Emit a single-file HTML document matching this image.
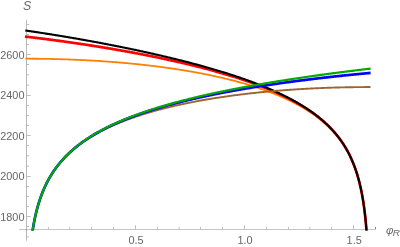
<!DOCTYPE html>
<html><head><meta charset="utf-8"><title>Plot</title>
<style>html,body{margin:0;padding:0;background:#fff}svg{display:block}text{filter:grayscale(1)}text{font-family:"Liberation Sans",sans-serif;fill:#666}</style></head>
<body>
<svg width="400" height="247" viewBox="0 0 400 247">
<rect width="400" height="247" fill="#fff"/>
<defs><clipPath id="c"><rect x="0" y="0" width="400" height="230.60"/></clipPath></defs>
<g stroke="#666" stroke-width="0.46" fill="none">
<path d="M19.2 229.50 H375.9" stroke-width="0.38"/>
<path d="M26.50 19.7 V240.7"/>
<path d="M48.40 229.00 v-2.1" stroke-width="0.42"/>
<path d="M69.80 229.00 v-2.1" stroke-width="0.42"/>
<path d="M91.50 229.00 v-2.1" stroke-width="0.42"/>
<path d="M113.50 229.00 v-2.1" stroke-width="0.42"/>
<path d="M135.50 229.00 v-3.8" stroke-width="0.42"/>
<path d="M157.50 229.00 v-2.1" stroke-width="0.42"/>
<path d="M179.13 229.00 v-2.1" stroke-width="0.42"/>
<path d="M200.53 229.00 v-2.1" stroke-width="0.42"/>
<path d="M222.50 229.00 v-2.1" stroke-width="0.42"/>
<path d="M244.50 229.00 v-3.8" stroke-width="0.42"/>
<path d="M266.50 229.00 v-2.1" stroke-width="0.42"/>
<path d="M288.47 229.00 v-2.1" stroke-width="0.42"/>
<path d="M309.87 229.00 v-2.1" stroke-width="0.42"/>
<path d="M331.50 229.00 v-2.1" stroke-width="0.42"/>
<path d="M353.50 229.00 v-3.8" stroke-width="0.42"/>
<path d="M375.50 229.00 v-2.1" stroke-width="0.80"/>
<path d="M27.00 236.85 h2.1" stroke-width="0.42"/>
<path d="M27.00 226.50 h2.1" stroke-width="0.42"/>
<path d="M27.00 216.50 h3.8" stroke-width="0.42"/>
<path d="M27.00 206.50 h2.1" stroke-width="0.42"/>
<path d="M27.00 196.50 h2.1" stroke-width="0.42"/>
<path d="M27.00 186.50 h2.1" stroke-width="0.42"/>
<path d="M27.00 176.50 h3.8" stroke-width="0.42"/>
<path d="M27.00 166.21 h2.1" stroke-width="0.42"/>
<path d="M27.00 155.78 h2.1" stroke-width="0.42"/>
<path d="M27.00 145.50 h2.1" stroke-width="0.42"/>
<path d="M27.00 135.50 h3.8" stroke-width="0.42"/>
<path d="M27.00 125.50 h2.1" stroke-width="0.42"/>
<path d="M27.00 115.50 h2.1" stroke-width="0.42"/>
<path d="M27.00 105.50 h2.1" stroke-width="0.42"/>
<path d="M27.00 95.50 h3.8" stroke-width="0.42"/>
<path d="M27.00 85.14 h2.1" stroke-width="0.42"/>
<path d="M27.00 74.72 h2.1" stroke-width="0.42"/>
<path d="M27.00 64.50 h2.1" stroke-width="0.42"/>
<path d="M27.00 54.50 h3.8" stroke-width="0.42"/>
<path d="M27.00 44.50 h2.1" stroke-width="0.42"/>
<path d="M27.00 34.50 h2.1" stroke-width="0.42"/>
<path d="M27.00 24.50 h2.1" stroke-width="0.42"/>
</g>
<g clip-path="url(#c)" fill="none" stroke-linejoin="round" stroke-linecap="square">
<path d="M26.30 58.71 L27.16 58.71 L28.01 58.71 L28.87 58.71 L29.73 58.72 L30.58 58.72 L31.44 58.72 L32.30 58.73 L33.15 58.73 L34.01 58.74 L34.87 58.74 L35.72 58.75 L36.58 58.76 L37.44 58.76 L38.30 58.77 L39.15 58.78 L40.01 58.79 L40.87 58.80 L41.72 58.81 L42.58 58.82 L43.44 58.84 L44.29 58.85 L45.15 58.86 L46.01 58.88 L46.86 58.89 L47.72 58.91 L48.58 58.92 L49.43 58.94 L50.29 58.96 L51.15 58.97 L52.00 58.99 L52.86 59.01 L53.72 59.03 L54.57 59.05 L55.43 59.07 L56.29 59.09 L57.15 59.12 L58.00 59.14 L58.86 59.16 L59.72 59.19 L60.57 59.21 L61.43 59.24 L62.29 59.26 L63.14 59.29 L64.00 59.32 L64.86 59.35 L65.71 59.38 L66.57 59.40 L67.43 59.43 L68.28 59.47 L69.14 59.50 L70.00 59.53 L70.85 59.56 L71.71 59.59 L72.57 59.63 L73.42 59.66 L74.28 59.70 L75.14 59.73 L76.00 59.77 L76.85 59.81 L77.71 59.85 L78.57 59.88 L79.42 59.92 L80.28 59.96 L81.14 60.00 L81.99 60.05 L82.85 60.09 L83.71 60.13 L84.56 60.17 L85.42 60.22 L86.28 60.26 L87.13 60.31 L87.99 60.35 L88.85 60.40 L89.70 60.45 L90.56 60.49 L91.42 60.54 L92.27 60.59 L93.13 60.64 L93.99 60.69 L94.85 60.74 L95.70 60.80 L96.56 60.85 L97.42 60.90 L98.27 60.96 L99.13 61.01 L99.99 61.07 L100.84 61.12 L101.70 61.18 L102.56 61.24 L103.41 61.30 L104.27 61.35 L105.13 61.41 L105.98 61.47 L106.84 61.54 L107.70 61.60 L108.55 61.66 L109.41 61.72 L110.27 61.79 L111.12 61.85 L111.98 61.92 L112.84 61.98 L113.70 62.05 L114.55 62.12 L115.41 62.19 L116.27 62.26 L117.12 62.33 L117.98 62.40 L118.84 62.47 L119.69 62.54 L120.55 62.61 L121.41 62.69 L122.26 62.76 L123.12 62.84 L123.98 62.91 L124.83 62.99 L125.69 63.07 L126.55 63.15 L127.40 63.22 L128.26 63.30 L129.12 63.39 L129.97 63.47 L130.83 63.55 L131.69 63.63 L132.55 63.72 L133.40 63.80 L134.26 63.89 L135.12 63.97 L135.97 64.06 L136.83 64.15 L137.69 64.24 L138.54 64.33 L139.40 64.42 L140.26 64.51 L141.11 64.60 L141.97 64.69 L142.83 64.79 L143.68 64.88 L144.54 64.97 L145.40 65.07 L146.25 65.17 L147.11 65.27 L147.97 65.36 L148.82 65.46 L149.68 65.56 L150.54 65.67 L151.39 65.77 L152.25 65.87 L153.11 65.98 L153.97 66.08 L154.82 66.19 L155.68 66.29 L156.54 66.40 L157.39 66.51 L158.25 66.62 L159.11 66.73 L159.96 66.84 L160.82 66.95 L161.68 67.07 L162.53 67.18 L163.39 67.30 L164.25 67.41 L165.10 67.53 L165.96 67.65 L166.82 67.77 L167.67 67.89 L168.53 68.01 L169.39 68.13 L170.24 68.25 L171.10 68.37 L171.96 68.50 L172.82 68.63 L173.67 68.75 L174.53 68.88 L175.39 69.01 L176.24 69.14 L177.10 69.27 L177.96 69.40 L178.81 69.54 L179.67 69.67 L180.53 69.81 L181.38 69.94 L182.24 70.08 L183.10 70.22 L183.95 70.36 L184.81 70.50 L185.67 70.64 L186.52 70.78 L187.38 70.93 L188.24 71.07 L189.09 71.22 L189.95 71.37 L190.81 71.52 L191.67 71.67 L192.52 71.82 L193.38 71.97 L194.24 72.12 L195.09 72.28 L195.95 72.43 L196.81 72.59 L197.66 72.75 L198.52 72.91 L199.38 73.07 L200.23 73.23 L201.09 73.39 L201.95 73.56 L202.80 73.73 L203.66 73.89 L204.52 74.06 L205.37 74.23 L206.23 74.40 L207.09 74.58 L207.94 74.75 L208.80 74.93 L209.66 75.10 L210.52 75.28 L211.37 75.46 L212.23 75.64 L213.09 75.82 L213.94 76.01 L214.80 76.19 L215.66 76.38 L216.51 76.57 L217.37 76.76 L218.23 76.95 L219.08 77.14 L219.94 77.34 L220.80 77.53 L221.65 77.73 L222.51 77.93 L223.37 78.13 L224.22 78.34 L225.08 78.54 L225.94 78.75 L226.79 78.95 L227.65 79.16 L228.51 79.37 L229.37 79.59 L230.22 79.80 L231.08 80.02 L231.94 80.23 L232.79 80.45 L233.65 80.68 L234.51 80.90 L235.36 81.12 L236.22 81.35 L237.08 81.58 L237.93 81.81 L238.79 82.05 L239.65 82.28 L240.50 82.52 L241.36 82.76 L242.22 83.00 L243.07 83.24 L243.93 83.49 L244.79 83.73 L245.64 83.98 L246.50 84.23 L247.36 84.49 L248.22 84.74 L249.07 85.00 L249.93 85.26 L250.79 85.53 L251.64 85.79 L252.50 86.06 L253.36 86.33 L254.21 86.60 L255.07 86.88 L255.93 87.16 L256.78 87.44 L257.64 87.72 L258.50 88.00 L259.35 88.29 L260.21 88.58 L261.07 88.88 L261.92 89.17 L262.78 89.47 L263.64 89.77 L264.49 90.08 L265.35 90.38 L266.21 90.70 L267.06 91.01 L267.92 91.33 L268.78 91.65 L269.64 91.97 L270.49 92.29 L271.35 92.62 L272.21 92.96 L273.06 93.29 L273.92 93.63 L274.78 93.98 L275.63 94.32 L276.49 94.67 L277.35 95.03 L278.20 95.39 L279.06 95.75 L279.92 96.11 L280.77 96.48 L281.63 96.86 L282.49 97.23 L283.34 97.62 L284.20 98.00 L285.06 98.39 L285.91 98.79 L286.77 99.19 L287.63 99.59 L288.49 100.00 L289.34 100.41 L290.20 100.83 L291.06 101.25 L291.92 101.68 L292.78 102.12 L293.64 102.56 L294.50 103.00 L295.36 103.45 L296.22 103.91 L297.08 104.37 L297.94 104.83 L298.81 105.31 L299.67 105.79 L300.53 106.27 L301.40 106.77 L302.26 107.27 L302.95 107.67 L303.64 108.08 L304.33 108.49 L305.03 108.91 L305.72 109.33 L306.41 109.76 L307.10 110.20 L307.80 110.63 L308.49 111.08 L309.18 111.52 L309.87 111.98 L310.57 112.44 L311.26 112.90 L311.95 113.37 L312.65 113.85 L313.34 114.33 L314.03 114.82 L314.73 115.32 L315.42 115.82 L316.12 116.33 L316.81 116.84 L317.50 117.37 L318.20 117.90 L318.89 118.43 L319.59 118.98 L320.28 119.53 L320.97 120.09 L321.67 120.66 L322.36 121.24 L323.06 121.83 L323.75 122.42 L324.44 123.03 L325.14 123.64 L325.83 124.26 L326.53 124.90 L327.22 125.54 L327.91 126.20 L328.61 126.87 L329.30 127.54 L330.00 128.23 L330.69 128.94 L331.38 129.65 L332.07 130.38 L332.77 131.12 L333.46 131.88 L334.15 132.65 L334.85 133.44 L335.54 134.24 L336.06 134.86 L336.58 135.48 L337.10 136.11 L337.62 136.75 L338.13 137.41 L338.65 138.07 L339.17 138.75 L339.69 139.44 L340.21 140.14 L340.73 140.85 L341.25 141.57 L341.76 142.31 L342.28 143.06 L342.80 143.83 L343.32 144.61 L343.84 145.41 L344.35 146.23 L344.87 147.06 L345.39 147.90 L345.90 148.77 L346.42 149.66 L346.94 150.56 L347.45 151.49 L347.97 152.44 L348.49 153.41 L349.00 154.41 L349.52 155.43 L350.03 156.48 L350.55 157.55 L350.89 158.29 L351.24 159.04 L351.58 159.80 L351.92 160.57 L352.27 161.37 L352.61 162.17 L352.95 163.00 L353.30 163.84 L353.64 164.70 L353.98 165.58 L354.32 166.47 L354.67 167.39 L355.01 168.33 L355.35 169.29 L355.70 170.28 L356.04 171.29 L356.38 172.32 L356.72 173.39 L357.07 174.48 L357.41 175.60 L357.75 176.75 L358.09 177.94 L358.44 179.17 L358.78 180.43 L359.12 181.73 L359.47 183.08 L359.81 184.47 L360.15 185.91 L360.49 187.41 L360.84 188.96 L361.01 189.76 L361.18 190.58 L361.35 191.41 L361.52 192.26 L361.69 193.13 L361.86 194.02 L362.04 194.93 L362.21 195.85 L362.38 196.80 L362.55 197.78 L362.72 198.77 L362.89 199.80 L363.06 200.84 L363.24 201.92 L363.41 203.03 L363.58 204.16 L363.75 205.33 L363.92 206.54 L364.09 207.78 L364.26 209.06 L364.44 210.38 L364.61 211.75 L364.78 213.16 L364.95 214.63 L365.12 216.15 L365.29 217.73 L365.46 219.38 L365.63 221.09 L365.81 222.88 L365.98 224.76 L366.15 226.72 L366.32 228.78 L366.49 230.96 L366.66 233.26 L366.83 235.69 L367.01 238.29 L367.18 241.06 L367.35 244.03 L367.52 247.24 L367.69 250.73 L367.86 254.54 L368.03 258.75" stroke="#ff8000" stroke-width="1.8"/>
<path d="M26.30 36.73 L27.16 36.82 L28.01 36.92 L28.87 37.02 L29.73 37.13 L30.58 37.23 L31.44 37.33 L32.30 37.43 L33.15 37.53 L34.01 37.63 L34.87 37.74 L35.72 37.84 L36.58 37.95 L37.44 38.05 L38.30 38.16 L39.15 38.26 L40.01 38.37 L40.87 38.47 L41.72 38.58 L42.58 38.69 L43.44 38.80 L44.29 38.90 L45.15 39.01 L46.01 39.12 L46.86 39.23 L47.72 39.34 L48.58 39.45 L49.43 39.56 L50.29 39.68 L51.15 39.79 L52.00 39.90 L52.86 40.01 L53.72 40.13 L54.57 40.24 L55.43 40.35 L56.29 40.47 L57.15 40.58 L58.00 40.70 L58.86 40.81 L59.72 40.93 L60.57 41.05 L61.43 41.17 L62.29 41.28 L63.14 41.40 L64.00 41.52 L64.86 41.64 L65.71 41.76 L66.57 41.88 L67.43 42.00 L68.28 42.12 L69.14 42.24 L70.00 42.36 L70.85 42.49 L71.71 42.61 L72.57 42.73 L73.42 42.86 L74.28 42.98 L75.14 43.11 L76.00 43.23 L76.85 43.36 L77.71 43.48 L78.57 43.61 L79.42 43.74 L80.28 43.86 L81.14 43.99 L81.99 44.12 L82.85 44.25 L83.71 44.38 L84.56 44.51 L85.42 44.64 L86.28 44.77 L87.13 44.90 L87.99 45.03 L88.85 45.17 L89.70 45.30 L90.56 45.43 L91.42 45.56 L92.27 45.70 L93.13 45.83 L93.99 45.97 L94.85 46.10 L95.70 46.24 L96.56 46.38 L97.42 46.51 L98.27 46.65 L99.13 46.79 L99.99 46.93 L100.84 47.07 L101.70 47.21 L102.56 47.35 L103.41 47.49 L104.27 47.63 L105.13 47.77 L105.98 47.91 L106.84 48.06 L107.70 48.20 L108.55 48.34 L109.41 48.49 L110.27 48.63 L111.12 48.78 L111.98 48.92 L112.84 49.07 L113.70 49.21 L114.55 49.36 L115.41 49.51 L116.27 49.66 L117.12 49.81 L117.98 49.96 L118.84 50.11 L119.69 50.26 L120.55 50.41 L121.41 50.56 L122.26 50.71 L123.12 50.86 L123.98 51.02 L124.83 51.17 L125.69 51.32 L126.55 51.48 L127.40 51.63 L128.26 51.79 L129.12 51.95 L129.97 52.10 L130.83 52.26 L131.69 52.42 L132.55 52.58 L133.40 52.74 L134.26 52.90 L135.12 53.06 L135.97 53.22 L136.83 53.38 L137.69 53.54 L138.54 53.71 L139.40 53.87 L140.26 54.03 L141.11 54.20 L141.97 54.36 L142.83 54.53 L143.68 54.70 L144.54 54.86 L145.40 55.03 L146.25 55.20 L147.11 55.37 L147.97 55.54 L148.82 55.71 L149.68 55.88 L150.54 56.05 L151.39 56.22 L152.25 56.40 L153.11 56.57 L153.97 56.74 L154.82 56.92 L155.68 57.09 L156.54 57.27 L157.39 57.45 L158.25 57.62 L159.11 57.80 L159.96 57.98 L160.82 58.16 L161.68 58.34 L162.53 58.52 L163.39 58.70 L164.25 58.89 L165.10 59.07 L165.96 59.25 L166.82 59.44 L167.67 59.62 L168.53 59.81 L169.39 60.00 L170.24 60.18 L171.10 60.37 L171.96 60.56 L172.82 60.75 L173.67 60.94 L174.53 61.13 L175.39 61.33 L176.24 61.52 L177.10 61.71 L177.96 61.91 L178.81 62.10 L179.67 62.30 L180.53 62.50 L181.38 62.69 L182.24 62.89 L183.10 63.09 L183.95 63.29 L184.81 63.49 L185.67 63.70 L186.52 63.90 L187.38 64.10 L188.24 64.31 L189.09 64.51 L189.95 64.72 L190.81 64.93 L191.67 65.14 L192.52 65.35 L193.38 65.56 L194.24 65.77 L195.09 65.98 L195.95 66.19 L196.81 66.41 L197.66 66.62 L198.52 66.84 L199.38 67.05 L200.23 67.27 L201.09 67.49 L201.95 67.71 L202.80 67.93 L203.66 68.16 L204.52 68.38 L205.37 68.60 L206.23 68.83 L207.09 69.06 L207.94 69.28 L208.80 69.51 L209.66 69.74 L210.52 69.97 L211.37 70.21 L212.23 70.44 L213.09 70.67 L213.94 70.91 L214.80 71.15 L215.66 71.38 L216.51 71.62 L217.37 71.86 L218.23 72.11 L219.08 72.35 L219.94 72.59 L220.80 72.84 L221.65 73.09 L222.51 73.34 L223.37 73.59 L224.22 73.84 L225.08 74.09 L225.94 74.34 L226.79 74.60 L227.65 74.85 L228.51 75.11 L229.37 75.37 L230.22 75.63 L231.08 75.90 L231.94 76.16 L232.79 76.43 L233.65 76.69 L234.51 76.96 L235.36 77.23 L236.22 77.50 L237.08 77.78 L237.93 78.05 L238.79 78.33 L239.65 78.61 L240.50 78.89 L241.36 79.17 L242.22 79.46 L243.07 79.74 L243.93 80.03 L244.79 80.32 L245.64 80.61 L246.50 80.90 L247.36 81.20 L248.22 81.50 L249.07 81.79 L249.93 82.10 L250.79 82.40 L251.64 82.70 L252.50 83.01 L253.36 83.32 L254.21 83.63 L255.07 83.95 L255.93 84.26 L256.78 84.58 L257.64 84.90 L258.50 85.22 L259.35 85.55 L260.21 85.88 L261.07 86.21 L261.92 86.54 L262.78 86.87 L263.64 87.21 L264.49 87.55 L265.35 87.89 L266.21 88.24 L267.06 88.59 L267.92 88.94 L268.78 89.29 L269.64 89.65 L270.49 90.01 L271.35 90.37 L272.21 90.74 L273.06 91.11 L273.92 91.48 L274.78 91.85 L275.63 92.23 L276.49 92.61 L277.35 93.00 L278.20 93.39 L279.06 93.78 L279.92 94.18 L280.77 94.58 L281.63 94.98 L282.49 95.39 L283.34 95.80 L284.20 96.21 L285.06 96.63 L285.91 97.06 L286.77 97.48 L287.63 97.91 L288.49 98.35 L289.34 98.79 L290.20 99.24 L291.06 99.69 L291.92 100.14 L292.78 100.60 L293.64 101.07 L294.50 101.54 L295.36 102.01 L296.22 102.49 L297.08 102.98 L297.94 103.47 L298.81 103.97 L299.67 104.47 L300.36 104.88 L301.05 105.29 L301.74 105.70 L302.43 106.12 L303.12 106.55 L303.82 106.97 L304.51 107.41 L305.20 107.84 L305.89 108.28 L306.58 108.73 L307.28 109.18 L307.97 109.64 L308.66 110.10 L309.35 110.56 L310.05 111.03 L310.74 111.51 L311.43 111.99 L312.13 112.48 L312.82 112.97 L313.51 113.47 L314.21 113.98 L314.90 114.49 L315.60 115.01 L316.29 115.53 L316.98 116.06 L317.68 116.60 L318.37 117.15 L319.07 117.70 L319.76 118.26 L320.45 118.83 L321.15 119.41 L321.84 119.99 L322.54 120.58 L323.23 121.18 L323.92 121.79 L324.62 122.41 L325.31 123.04 L326.01 123.68 L326.70 124.33 L327.39 124.98 L328.09 125.65 L328.78 126.33 L329.47 127.03 L330.17 127.73 L330.86 128.45 L331.56 129.18 L332.25 129.92 L332.94 130.67 L333.63 131.44 L334.33 132.23 L335.02 133.03 L335.54 133.64 L336.06 134.26 L336.58 134.89 L337.10 135.53 L337.62 136.18 L338.13 136.84 L338.65 137.51 L339.17 138.19 L339.69 138.88 L340.21 139.59 L340.73 140.30 L341.25 141.04 L341.76 141.78 L342.28 142.54 L342.80 143.31 L343.32 144.10 L343.84 144.90 L344.35 145.72 L344.87 146.55 L345.39 147.41 L345.90 148.28 L346.42 149.17 L346.94 150.08 L347.45 151.01 L347.97 151.96 L348.49 152.94 L349.00 153.94 L349.52 154.96 L350.03 156.02 L350.55 157.10 L350.89 157.83 L351.24 158.58 L351.58 159.35 L351.92 160.12 L352.27 160.92 L352.61 161.73 L352.95 162.55 L353.30 163.40 L353.64 164.26 L353.98 165.14 L354.32 166.04 L354.67 166.96 L355.01 167.90 L355.35 168.86 L355.70 169.85 L356.04 170.86 L356.38 171.90 L356.72 172.96 L357.07 174.05 L357.41 175.18 L357.75 176.33 L358.09 177.52 L358.44 178.75 L358.78 180.01 L359.12 181.32 L359.47 182.66 L359.81 184.06 L360.15 185.50 L360.49 187.00 L360.84 188.55 L361.01 189.35 L361.18 190.17 L361.35 191.00 L361.52 191.85 L361.69 192.72 L361.86 193.61 L362.04 194.52 L362.21 195.45 L362.38 196.40 L362.55 197.37 L362.72 198.37 L362.89 199.39 L363.06 200.44 L363.24 201.51 L363.41 202.62 L363.58 203.76 L363.75 204.93 L363.92 206.13 L364.09 207.37 L364.26 208.65 L364.44 209.98 L364.61 211.35 L364.78 212.76 L364.95 214.23 L365.12 215.75 L365.29 217.33 L365.46 218.97 L365.63 220.69 L365.81 222.48 L365.98 224.35 L366.15 226.32 L366.32 228.38 L366.49 230.56 L366.66 232.85 L366.83 235.29 L367.01 237.88 L367.18 240.65 L367.35 243.63 L367.52 246.84 L367.69 250.32 L367.86 254.14 L368.03 258.35" stroke="#ff0000" stroke-width="2.7"/>
<path d="M26.30 30.64 L27.16 30.76 L28.01 30.88 L28.87 31.01 L29.73 31.14 L30.58 31.26 L31.44 31.39 L32.30 31.51 L33.15 31.64 L34.01 31.77 L34.87 31.90 L35.72 32.03 L36.58 32.15 L37.44 32.28 L38.30 32.41 L39.15 32.54 L40.01 32.67 L40.87 32.81 L41.72 32.94 L42.58 33.07 L43.44 33.20 L44.29 33.33 L45.15 33.47 L46.01 33.60 L46.86 33.73 L47.72 33.87 L48.58 34.00 L49.43 34.14 L50.29 34.28 L51.15 34.41 L52.00 34.55 L52.86 34.68 L53.72 34.82 L54.57 34.96 L55.43 35.10 L56.29 35.24 L57.15 35.38 L58.00 35.52 L58.86 35.66 L59.72 35.80 L60.57 35.94 L61.43 36.08 L62.29 36.22 L63.14 36.36 L64.00 36.50 L64.86 36.65 L65.71 36.79 L66.57 36.94 L67.43 37.08 L68.28 37.22 L69.14 37.37 L70.00 37.51 L70.85 37.66 L71.71 37.81 L72.57 37.95 L73.42 38.10 L74.28 38.25 L75.14 38.40 L76.00 38.55 L76.85 38.69 L77.71 38.84 L78.57 38.99 L79.42 39.14 L80.28 39.30 L81.14 39.45 L81.99 39.60 L82.85 39.75 L83.71 39.90 L84.56 40.06 L85.42 40.21 L86.28 40.36 L87.13 40.52 L87.99 40.67 L88.85 40.83 L89.70 40.98 L90.56 41.14 L91.42 41.30 L92.27 41.45 L93.13 41.61 L93.99 41.77 L94.85 41.93 L95.70 42.08 L96.56 42.24 L97.42 42.40 L98.27 42.56 L99.13 42.72 L99.99 42.89 L100.84 43.05 L101.70 43.21 L102.56 43.37 L103.41 43.53 L104.27 43.70 L105.13 43.86 L105.98 44.03 L106.84 44.19 L107.70 44.36 L108.55 44.52 L109.41 44.69 L110.27 44.85 L111.12 45.02 L111.98 45.19 L112.84 45.36 L113.70 45.53 L114.55 45.69 L115.41 45.86 L116.27 46.03 L117.12 46.20 L117.98 46.38 L118.84 46.55 L119.69 46.72 L120.55 46.89 L121.41 47.06 L122.26 47.24 L123.12 47.41 L123.98 47.59 L124.83 47.76 L125.69 47.94 L126.55 48.11 L127.40 48.29 L128.26 48.47 L129.12 48.64 L129.97 48.82 L130.83 49.00 L131.69 49.18 L132.55 49.36 L133.40 49.54 L134.26 49.72 L135.12 49.90 L135.97 50.08 L136.83 50.27 L137.69 50.45 L138.54 50.63 L139.40 50.82 L140.26 51.00 L141.11 51.18 L141.97 51.37 L142.83 51.56 L143.68 51.74 L144.54 51.93 L145.40 52.12 L146.25 52.31 L147.11 52.50 L147.97 52.69 L148.82 52.88 L149.68 53.07 L150.54 53.26 L151.39 53.45 L152.25 53.64 L153.11 53.84 L153.97 54.03 L154.82 54.22 L155.68 54.42 L156.54 54.62 L157.39 54.81 L158.25 55.01 L159.11 55.21 L159.96 55.40 L160.82 55.60 L161.68 55.80 L162.53 56.00 L163.39 56.20 L164.25 56.41 L165.10 56.61 L165.96 56.81 L166.82 57.01 L167.67 57.22 L168.53 57.42 L169.39 57.63 L170.24 57.83 L171.10 58.04 L171.96 58.25 L172.82 58.46 L173.67 58.67 L174.53 58.88 L175.39 59.09 L176.24 59.30 L177.10 59.51 L177.96 59.72 L178.81 59.94 L179.67 60.15 L180.53 60.37 L181.38 60.58 L182.24 60.80 L183.10 61.02 L183.95 61.23 L184.81 61.45 L185.67 61.67 L186.52 61.89 L187.38 62.11 L188.24 62.34 L189.09 62.56 L189.95 62.78 L190.81 63.01 L191.67 63.23 L192.52 63.46 L193.38 63.69 L194.24 63.92 L195.09 64.15 L195.95 64.38 L196.81 64.61 L197.66 64.84 L198.52 65.07 L199.38 65.31 L200.23 65.54 L201.09 65.78 L201.95 66.01 L202.80 66.25 L203.66 66.49 L204.52 66.73 L205.37 66.97 L206.23 67.21 L207.09 67.45 L207.94 67.70 L208.80 67.94 L209.66 68.19 L210.52 68.43 L211.37 68.68 L212.23 68.93 L213.09 69.18 L213.94 69.43 L214.80 69.69 L215.66 69.94 L216.51 70.19 L217.37 70.45 L218.23 70.71 L219.08 70.96 L219.94 71.22 L220.80 71.49 L221.65 71.75 L222.51 72.01 L223.37 72.27 L224.22 72.54 L225.08 72.81 L225.94 73.08 L226.79 73.35 L227.65 73.62 L228.51 73.89 L229.37 74.16 L230.22 74.44 L231.08 74.72 L231.94 74.99 L232.79 75.27 L233.65 75.55 L234.51 75.84 L235.36 76.12 L236.22 76.41 L237.08 76.69 L237.93 76.98 L238.79 77.27 L239.65 77.57 L240.50 77.86 L241.36 78.15 L242.22 78.45 L243.07 78.75 L243.93 79.05 L244.79 79.35 L245.64 79.66 L246.50 79.96 L247.36 80.27 L248.22 80.58 L249.07 80.89 L249.93 81.21 L250.79 81.52 L251.64 81.84 L252.50 82.16 L253.36 82.48 L254.21 82.80 L255.07 83.13 L255.93 83.46 L256.78 83.79 L257.64 84.12 L258.50 84.45 L259.35 84.79 L260.21 85.13 L261.07 85.47 L261.92 85.81 L262.78 86.16 L263.64 86.51 L264.49 86.86 L265.35 87.21 L266.21 87.57 L267.06 87.93 L267.92 88.29 L268.78 88.66 L269.64 89.02 L270.49 89.39 L271.35 89.77 L272.21 90.14 L273.06 90.52 L273.92 90.90 L274.78 91.29 L275.63 91.68 L276.49 92.07 L277.35 92.47 L278.20 92.86 L279.06 93.27 L279.92 93.67 L280.77 94.08 L281.63 94.49 L282.49 94.91 L283.34 95.33 L284.20 95.75 L285.06 96.18 L285.91 96.61 L286.77 97.05 L287.63 97.49 L288.49 97.94 L289.34 98.39 L290.20 98.84 L291.06 99.30 L291.92 99.76 L292.78 100.23 L293.64 100.70 L294.50 101.18 L295.36 101.66 L296.22 102.15 L297.08 102.64 L297.94 103.14 L298.81 103.65 L299.50 104.06 L300.19 104.47 L300.88 104.89 L301.57 105.31 L302.26 105.73 L302.95 106.16 L303.64 106.59 L304.33 107.03 L305.03 107.47 L305.72 107.91 L306.41 108.36 L307.10 108.82 L307.80 109.28 L308.49 109.74 L309.18 110.21 L309.87 110.69 L310.57 111.17 L311.26 111.66 L311.95 112.15 L312.65 112.64 L313.34 113.15 L314.03 113.66 L314.73 114.17 L315.42 114.69 L316.12 115.22 L316.81 115.75 L317.50 116.30 L318.20 116.84 L318.89 117.40 L319.59 117.96 L320.28 118.53 L320.97 119.11 L321.67 119.70 L322.36 120.29 L323.06 120.89 L323.75 121.50 L324.44 122.13 L325.14 122.76 L325.83 123.40 L326.53 124.04 L327.22 124.70 L327.91 125.37 L328.61 126.06 L329.30 126.75 L330.00 127.45 L330.69 128.17 L331.38 128.90 L332.07 129.64 L332.77 130.40 L333.46 131.17 L334.15 131.95 L334.85 132.75 L335.37 133.36 L335.89 133.98 L336.40 134.61 L336.92 135.24 L337.44 135.89 L337.96 136.55 L338.48 137.22 L339.00 137.90 L339.52 138.59 L340.04 139.29 L340.55 140.01 L341.07 140.74 L341.59 141.48 L342.11 142.23 L342.63 143.00 L343.14 143.79 L343.66 144.59 L344.18 145.40 L344.70 146.23 L345.21 147.08 L345.73 147.95 L346.25 148.83 L346.77 149.74 L347.28 150.67 L347.80 151.61 L348.31 152.58 L348.83 153.58 L349.35 154.59 L349.86 155.64 L350.38 156.71 L350.72 157.44 L351.07 158.18 L351.41 158.94 L351.75 159.71 L352.10 160.50 L352.44 161.30 L352.78 162.12 L353.12 162.96 L353.47 163.81 L353.81 164.68 L354.15 165.57 L354.50 166.48 L354.84 167.41 L355.18 168.36 L355.52 169.34 L355.87 170.34 L356.21 171.36 L356.55 172.41 L356.90 173.49 L357.24 174.60 L357.58 175.74 L357.92 176.92 L358.27 178.12 L358.61 179.37 L358.95 180.65 L359.29 181.98 L359.64 183.35 L359.98 184.77 L360.32 186.24 L360.67 187.76 L360.84 188.55 L361.01 189.35 L361.18 190.17 L361.35 191.00 L361.52 191.85 L361.69 192.72 L361.86 193.61 L362.04 194.51 L362.21 195.44 L362.38 196.39 L362.55 197.37 L362.72 198.36 L362.89 199.39 L363.06 200.44 L363.24 201.51 L363.41 202.62 L363.58 203.76 L363.75 204.93 L363.92 206.13 L364.09 207.37 L364.26 208.65 L364.44 209.98 L364.61 211.34 L364.78 212.76 L364.95 214.23 L365.12 215.75 L365.29 217.33 L365.46 218.97 L365.63 220.69 L365.81 222.48 L365.98 224.35 L366.15 226.32 L366.32 228.38 L366.49 230.56 L366.66 232.85 L366.83 235.29 L367.01 237.88 L367.18 240.65 L367.35 243.63 L367.52 246.84 L367.69 250.32 L367.86 254.14 L368.03 258.35" stroke="#000000" stroke-width="2.1"/>
<path d="M29.41 259.26 L29.58 257.08 L29.75 255.02 L29.93 253.05 L30.10 251.18 L30.27 249.39 L30.44 247.68 L30.61 246.03 L30.78 244.45 L30.96 242.93 L31.13 241.46 L31.30 240.05 L31.47 238.68 L31.64 237.36 L31.81 236.08 L31.99 234.84 L32.16 233.63 L32.33 232.46 L32.50 231.32 L32.67 230.22 L32.84 229.14 L33.01 228.09 L33.19 227.07 L33.36 226.08 L33.53 225.10 L33.70 224.15 L33.87 223.22 L34.04 222.32 L34.22 221.43 L34.39 220.56 L34.56 219.71 L34.73 218.88 L34.90 218.06 L35.07 217.26 L35.25 216.48 L35.59 214.95 L35.93 213.48 L36.28 212.07 L36.62 210.70 L36.96 209.37 L37.31 208.09 L37.65 206.85 L37.99 205.64 L38.33 204.47 L38.68 203.33 L39.02 202.23 L39.36 201.15 L39.71 200.10 L40.05 199.08 L40.39 198.08 L40.74 197.11 L41.08 196.16 L41.42 195.23 L41.77 194.32 L42.11 193.43 L42.45 192.56 L42.80 191.71 L43.14 190.88 L43.48 190.07 L43.83 189.27 L44.17 188.48 L44.51 187.71 L44.86 186.96 L45.20 186.22 L45.54 185.49 L46.06 184.42 L46.57 183.38 L47.09 182.37 L47.60 181.38 L48.12 180.42 L48.63 179.48 L49.15 178.56 L49.66 177.66 L50.18 176.78 L50.69 175.92 L51.21 175.08 L51.72 174.25 L52.24 173.44 L52.75 172.65 L53.27 171.87 L53.78 171.11 L54.29 170.36 L54.81 169.63 L55.32 168.91 L55.84 168.20 L56.35 167.50 L56.87 166.82 L57.38 166.15 L57.90 165.49 L58.41 164.84 L58.93 164.20 L59.44 163.57 L59.96 162.95 L60.64 162.14 L61.33 161.34 L62.02 160.56 L62.70 159.80 L63.39 159.05 L64.08 158.31 L64.76 157.59 L65.45 156.88 L66.14 156.19 L66.82 155.50 L67.51 154.83 L68.20 154.17 L68.88 153.52 L69.57 152.88 L70.25 152.25 L70.94 151.63 L71.63 151.02 L72.31 150.42 L73.00 149.83 L73.69 149.25 L74.37 148.68 L75.06 148.11 L75.75 147.55 L76.43 147.00 L77.12 146.46 L77.81 145.93 L78.49 145.40 L79.18 144.88 L79.87 144.37 L80.55 143.87 L81.24 143.37 L81.92 142.88 L82.61 142.39 L83.30 141.91 L83.98 141.44 L84.67 140.97 L85.36 140.51 L86.04 140.05 L86.73 139.60 L87.42 139.15 L88.10 138.71 L88.79 138.28 L89.48 137.85 L90.16 137.42 L90.85 137.00 L91.53 136.59 L92.22 136.17 L93.08 135.67 L93.94 135.17 L94.80 134.67 L95.65 134.18 L96.51 133.70 L97.37 133.23 L98.23 132.76 L99.09 132.30 L99.94 131.84 L100.80 131.39 L101.66 130.94 L102.52 130.50 L103.38 130.07 L104.23 129.64 L105.09 129.22 L105.95 128.80 L106.81 128.38 L107.67 127.97 L108.52 127.57 L109.38 127.17 L110.24 126.77 L111.10 126.38 L111.96 125.99 L112.81 125.61 L113.67 125.23 L114.53 124.86 L115.39 124.49 L116.25 124.12 L117.11 123.76 L117.96 123.40 L118.82 123.05 L119.68 122.69 L120.54 122.35 L121.40 122.00 L122.25 121.66 L123.11 121.33 L123.97 120.99 L124.83 120.66 L125.69 120.34 L126.54 120.01 L127.40 119.69 L128.26 119.37 L129.12 119.06 L129.98 118.75 L130.83 118.44 L131.69 118.14 L132.55 117.83 L133.41 117.53 L134.27 117.24 L135.12 116.94 L135.98 116.65 L136.84 116.36 L137.70 116.08 L138.56 115.79 L139.41 115.51 L140.27 115.24 L141.13 114.96 L141.99 114.69 L142.85 114.42 L143.71 114.15 L144.56 113.88 L145.42 113.62 L146.28 113.36 L147.14 113.10 L148.00 112.84 L148.85 112.59 L149.71 112.34 L150.57 112.09 L151.43 111.84 L152.29 111.59 L153.14 111.35 L154.00 111.11 L154.86 110.87 L155.72 110.63 L156.58 110.40 L157.43 110.16 L158.29 109.93 L159.15 109.70 L160.01 109.48 L160.87 109.25 L161.72 109.03 L162.58 108.80 L163.44 108.58 L164.30 108.37 L165.16 108.15 L166.01 107.93 L166.87 107.72 L167.73 107.51 L168.59 107.30 L169.45 107.09 L170.31 106.89 L171.16 106.68 L172.02 106.48 L172.88 106.28 L173.74 106.08 L174.60 105.88 L175.45 105.68 L176.31 105.49 L177.17 105.30 L178.03 105.11 L178.89 104.92 L179.74 104.73 L180.60 104.54 L181.46 104.35 L182.32 104.17 L183.18 103.99 L184.03 103.81 L184.89 103.63 L185.75 103.45 L186.61 103.27 L187.47 103.09 L188.32 102.92 L189.18 102.75 L190.04 102.58 L190.90 102.41 L191.76 102.24 L192.61 102.07 L193.47 101.90 L194.33 101.74 L195.19 101.57 L196.05 101.41 L196.91 101.25 L197.76 101.09 L198.62 100.93 L199.48 100.78 L200.34 100.62 L201.20 100.46 L202.05 100.31 L202.91 100.16 L203.77 100.01 L204.63 99.86 L205.49 99.71 L206.34 99.56 L207.20 99.41 L208.06 99.27 L208.92 99.12 L209.78 98.98 L210.63 98.84 L211.49 98.70 L212.35 98.56 L213.21 98.42 L214.07 98.28 L214.92 98.15 L215.78 98.01 L216.64 97.88 L217.50 97.74 L218.36 97.61 L219.21 97.48 L220.07 97.35 L220.93 97.22 L221.79 97.09 L222.65 96.97 L223.51 96.84 L224.36 96.71 L225.22 96.59 L226.08 96.47 L226.94 96.35 L227.80 96.23 L228.65 96.11 L229.51 95.99 L230.37 95.87 L231.23 95.75 L232.09 95.64 L232.94 95.52 L233.80 95.41 L234.66 95.29 L235.52 95.18 L236.38 95.07 L237.23 94.96 L238.09 94.85 L238.95 94.74 L239.81 94.63 L240.67 94.53 L241.52 94.42 L242.38 94.32 L243.24 94.21 L244.10 94.11 L244.96 94.01 L245.81 93.90 L246.67 93.80 L247.53 93.70 L248.39 93.61 L249.25 93.51 L250.11 93.41 L250.96 93.31 L251.82 93.22 L252.68 93.12 L253.54 93.03 L254.40 92.94 L255.25 92.85 L256.11 92.76 L256.97 92.66 L257.83 92.58 L258.69 92.49 L259.54 92.40 L260.40 92.31 L261.26 92.23 L262.12 92.14 L262.98 92.06 L263.83 91.97 L264.69 91.89 L265.55 91.81 L266.41 91.73 L267.27 91.64 L268.12 91.57 L268.98 91.49 L269.84 91.41 L270.70 91.33 L271.56 91.25 L272.41 91.18 L273.27 91.10 L274.13 91.03 L274.99 90.95 L275.85 90.88 L276.71 90.81 L277.56 90.74 L278.42 90.67 L279.28 90.60 L280.14 90.53 L281.00 90.46 L281.85 90.39 L282.71 90.33 L283.57 90.26 L284.43 90.19 L285.29 90.13 L286.14 90.07 L287.00 90.00 L287.86 89.94 L288.72 89.88 L289.58 89.82 L290.43 89.76 L291.29 89.70 L292.15 89.64 L293.01 89.58 L293.87 89.52 L294.72 89.46 L295.58 89.41 L296.44 89.35 L297.30 89.30 L298.16 89.24 L299.01 89.19 L299.87 89.14 L300.73 89.09 L301.59 89.04 L302.45 88.99 L303.31 88.94 L304.16 88.89 L305.02 88.84 L305.88 88.79 L306.74 88.74 L307.60 88.70 L308.45 88.65 L309.31 88.61 L310.17 88.56 L311.03 88.52 L311.89 88.47 L312.74 88.43 L313.60 88.39 L314.46 88.35 L315.32 88.31 L316.18 88.27 L317.03 88.23 L317.89 88.19 L318.75 88.15 L319.61 88.12 L320.47 88.08 L321.32 88.04 L322.18 88.01 L323.04 87.98 L323.90 87.94 L324.76 87.91 L325.61 87.88 L326.47 87.84 L327.33 87.81 L328.19 87.78 L329.05 87.75 L329.91 87.72 L330.76 87.69 L331.62 87.67 L332.48 87.64 L333.34 87.61 L334.20 87.59 L335.05 87.56 L335.91 87.54 L336.77 87.51 L337.63 87.49 L338.49 87.47 L339.34 87.44 L340.20 87.42 L341.06 87.40 L341.92 87.38 L342.78 87.36 L343.63 87.34 L344.49 87.33 L345.35 87.31 L346.21 87.29 L347.07 87.27 L347.92 87.26 L348.78 87.24 L349.64 87.23 L350.50 87.21 L351.36 87.20 L352.21 87.19 L353.07 87.18 L353.93 87.17 L354.79 87.15 L355.65 87.14 L356.51 87.13 L357.36 87.13 L358.22 87.12 L359.08 87.11 L359.94 87.10 L360.80 87.10 L361.65 87.09 L362.51 87.09 L363.37 87.08 L364.23 87.08 L365.09 87.07 L365.94 87.07 L366.80 87.07 L367.66 87.07 L368.52 87.07 L369.38 87.07 L369.55 87.07" stroke="#996633" stroke-width="1.9"/>
<path d="M29.41 259.29 L29.58 257.12 L29.75 255.05 L29.92 253.09 L30.09 251.21 L30.27 249.42 L30.44 247.71 L30.61 246.06 L30.78 244.48 L30.95 242.96 L31.12 241.50 L31.29 240.08 L31.47 238.71 L31.64 237.39 L31.81 236.11 L31.98 234.87 L32.15 233.66 L32.32 232.49 L32.49 231.36 L32.67 230.25 L32.84 229.17 L33.01 228.12 L33.18 227.10 L33.35 226.11 L33.52 225.13 L33.69 224.18 L33.87 223.25 L34.04 222.35 L34.21 221.46 L34.38 220.59 L34.55 219.74 L34.72 218.91 L34.89 218.09 L35.07 217.29 L35.24 216.50 L35.58 214.98 L35.92 213.51 L36.27 212.09 L36.61 210.72 L36.95 209.40 L37.30 208.11 L37.64 206.87 L37.98 205.66 L38.32 204.49 L38.67 203.35 L39.01 202.24 L39.35 201.17 L39.70 200.12 L40.04 199.09 L40.38 198.09 L40.72 197.12 L41.07 196.17 L41.41 195.24 L41.75 194.33 L42.10 193.44 L42.44 192.57 L42.78 191.72 L43.13 190.89 L43.47 190.07 L43.81 189.27 L44.15 188.48 L44.50 187.71 L44.84 186.96 L45.18 186.22 L45.53 185.49 L46.04 184.42 L46.55 183.38 L47.07 182.36 L47.58 181.37 L48.10 180.40 L48.61 179.46 L49.13 178.54 L49.64 177.64 L50.16 176.75 L50.67 175.89 L51.18 175.04 L51.70 174.22 L52.21 173.41 L52.73 172.61 L53.24 171.83 L53.76 171.07 L54.27 170.31 L54.78 169.58 L55.30 168.85 L55.81 168.14 L56.33 167.44 L56.84 166.76 L57.36 166.08 L57.87 165.42 L58.39 164.76 L58.90 164.12 L59.41 163.49 L59.93 162.86 L60.44 162.25 L61.13 161.45 L61.81 160.66 L62.50 159.88 L63.19 159.13 L63.87 158.38 L64.56 157.65 L65.24 156.93 L65.93 156.23 L66.62 155.53 L67.30 154.85 L67.99 154.18 L68.67 153.52 L69.36 152.88 L70.04 152.24 L70.73 151.61 L71.42 150.99 L72.10 150.38 L72.79 149.78 L73.47 149.19 L74.16 148.61 L74.85 148.03 L75.53 147.47 L76.22 146.91 L76.90 146.36 L77.59 145.82 L78.28 145.28 L78.96 144.75 L79.65 144.23 L80.33 143.72 L81.02 143.21 L81.70 142.71 L82.39 142.21 L83.08 141.72 L83.76 141.24 L84.45 140.76 L85.13 140.29 L85.82 139.82 L86.51 139.36 L87.19 138.90 L87.88 138.45 L88.56 138.01 L89.25 137.57 L89.93 137.13 L90.62 136.70 L91.31 136.27 L91.99 135.85 L92.68 135.43 L93.36 135.02 L94.22 134.51 L95.08 134.01 L95.94 133.51 L96.79 133.02 L97.65 132.53 L98.51 132.05 L99.37 131.58 L100.22 131.11 L101.08 130.65 L101.94 130.19 L102.79 129.74 L103.65 129.29 L104.51 128.85 L105.37 128.41 L106.22 127.98 L107.08 127.55 L107.94 127.13 L108.80 126.71 L109.65 126.30 L110.51 125.89 L111.37 125.48 L112.22 125.08 L113.08 124.69 L113.94 124.29 L114.80 123.90 L115.65 123.52 L116.51 123.14 L117.37 122.76 L118.23 122.39 L119.08 122.02 L119.94 121.65 L120.80 121.29 L121.66 120.93 L122.51 120.57 L123.37 120.21 L124.23 119.86 L125.08 119.52 L125.94 119.17 L126.80 118.83 L127.66 118.49 L128.51 118.16 L129.37 117.83 L130.23 117.50 L131.09 117.17 L131.94 116.85 L132.80 116.53 L133.66 116.21 L134.51 115.89 L135.37 115.58 L136.23 115.27 L137.09 114.96 L137.94 114.66 L138.80 114.35 L139.66 114.05 L140.52 113.75 L141.37 113.46 L142.23 113.16 L143.09 112.87 L143.95 112.58 L144.80 112.30 L145.66 112.01 L146.52 111.73 L147.37 111.45 L148.23 111.17 L149.09 110.89 L149.95 110.62 L150.80 110.35 L151.66 110.08 L152.52 109.81 L153.38 109.54 L154.23 109.28 L155.09 109.02 L155.95 108.75 L156.81 108.50 L157.66 108.24 L158.52 107.98 L159.38 107.73 L160.23 107.48 L161.09 107.23 L161.95 106.98 L162.81 106.73 L163.66 106.49 L164.52 106.24 L165.38 106.00 L166.24 105.76 L167.09 105.52 L167.95 105.28 L168.81 105.05 L169.66 104.81 L170.52 104.58 L171.38 104.35 L172.24 104.12 L173.09 103.89 L173.95 103.67 L174.81 103.44 L175.67 103.22 L176.52 102.99 L177.38 102.77 L178.24 102.55 L179.10 102.33 L179.95 102.12 L180.81 101.90 L181.67 101.69 L182.52 101.47 L183.38 101.26 L184.24 101.05 L185.10 100.84 L185.95 100.63 L186.81 100.42 L187.67 100.22 L188.53 100.01 L189.38 99.81 L190.24 99.61 L191.10 99.41 L191.96 99.21 L192.81 99.01 L193.67 98.81 L194.53 98.61 L195.38 98.42 L196.24 98.22 L197.10 98.03 L197.96 97.84 L198.81 97.65 L199.67 97.46 L200.53 97.27 L201.39 97.08 L202.24 96.89 L203.10 96.71 L203.96 96.52 L204.81 96.34 L205.67 96.15 L206.53 95.97 L207.39 95.79 L208.24 95.61 L209.10 95.43 L209.96 95.25 L210.82 95.07 L211.67 94.90 L212.53 94.72 L213.39 94.55 L214.25 94.37 L215.10 94.20 L215.96 94.03 L216.82 93.86 L217.67 93.69 L218.53 93.52 L219.39 93.35 L220.25 93.18 L221.10 93.02 L221.96 92.85 L222.82 92.69 L223.68 92.52 L224.53 92.36 L225.39 92.20 L226.25 92.03 L227.10 91.87 L227.96 91.71 L228.82 91.55 L229.68 91.40 L230.53 91.24 L231.39 91.08 L232.25 90.92 L233.11 90.77 L233.96 90.61 L234.82 90.46 L235.68 90.31 L236.54 90.15 L237.39 90.00 L238.25 89.85 L239.11 89.70 L239.96 89.55 L240.82 89.40 L241.68 89.25 L242.54 89.11 L243.39 88.96 L244.25 88.81 L245.11 88.67 L245.97 88.52 L246.82 88.38 L247.68 88.23 L248.54 88.09 L249.40 87.95 L250.25 87.81 L251.11 87.67 L251.97 87.53 L252.82 87.39 L253.68 87.25 L254.54 87.11 L255.40 86.97 L256.25 86.83 L257.11 86.70 L257.97 86.56 L258.83 86.43 L259.68 86.29 L260.54 86.16 L261.40 86.03 L262.25 85.89 L263.11 85.76 L263.97 85.63 L264.83 85.50 L265.68 85.37 L266.54 85.24 L267.40 85.11 L268.26 84.98 L269.11 84.85 L269.97 84.72 L270.83 84.60 L271.69 84.47 L272.54 84.34 L273.40 84.22 L274.26 84.09 L275.11 83.97 L275.97 83.84 L276.83 83.72 L277.69 83.60 L278.54 83.48 L279.40 83.35 L280.26 83.23 L281.12 83.11 L281.97 82.99 L282.83 82.87 L283.69 82.75 L284.55 82.63 L285.40 82.52 L286.26 82.40 L287.12 82.28 L287.97 82.17 L288.83 82.05 L289.69 81.93 L290.55 81.82 L291.40 81.70 L292.26 81.59 L293.12 81.48 L293.98 81.36 L294.83 81.25 L295.69 81.14 L296.55 81.02 L297.40 80.91 L298.26 80.80 L299.12 80.69 L299.98 80.58 L300.83 80.47 L301.69 80.36 L302.55 80.25 L303.41 80.15 L304.26 80.04 L305.12 79.93 L305.98 79.82 L306.84 79.72 L307.69 79.61 L308.55 79.51 L309.41 79.40 L310.26 79.30 L311.12 79.19 L311.98 79.09 L312.84 78.98 L313.69 78.88 L314.55 78.78 L315.41 78.68 L316.27 78.57 L317.12 78.47 L317.98 78.37 L318.84 78.27 L319.69 78.17 L320.55 78.07 L321.41 77.97 L322.27 77.87 L323.12 77.78 L323.98 77.68 L324.84 77.58 L325.70 77.48 L326.55 77.38 L327.41 77.29 L328.27 77.19 L329.13 77.10 L329.98 77.00 L330.84 76.91 L331.70 76.81 L332.55 76.72 L333.41 76.62 L334.27 76.53 L335.13 76.44 L335.98 76.34 L336.84 76.25 L337.70 76.16 L338.56 76.07 L339.41 75.98 L340.27 75.88 L341.13 75.79 L341.99 75.70 L342.84 75.61 L343.70 75.52 L344.56 75.43 L345.41 75.35 L346.27 75.26 L347.13 75.17 L347.99 75.08 L348.84 74.99 L349.70 74.91 L350.56 74.82 L351.42 74.73 L352.27 74.65 L353.13 74.56 L353.99 74.48 L354.84 74.39 L355.70 74.31 L356.56 74.22 L357.42 74.14 L358.27 74.05 L359.13 73.97 L359.99 73.89 L360.85 73.80 L361.70 73.72 L362.56 73.64 L363.42 73.56 L364.28 73.48 L365.13 73.40 L365.99 73.31 L366.85 73.23 L367.70 73.15 L368.56 73.07 L369.25 73.01" stroke="#0000ff" stroke-width="2.7"/>
<path d="M29.41 259.26 L29.58 257.08 L29.75 255.02 L29.93 253.05 L30.10 251.18 L30.27 249.39 L30.44 247.67 L30.61 246.03 L30.78 244.45 L30.96 242.93 L31.13 241.46 L31.30 240.04 L31.47 238.68 L31.64 237.35 L31.81 236.07 L31.99 234.83 L32.16 233.63 L32.33 232.46 L32.50 231.32 L32.67 230.21 L32.84 229.14 L33.01 228.09 L33.19 227.07 L33.36 226.07 L33.53 225.10 L33.70 224.14 L33.87 223.22 L34.04 222.31 L34.22 221.42 L34.39 220.55 L34.56 219.70 L34.73 218.87 L34.90 218.05 L35.07 217.25 L35.25 216.47 L35.59 214.94 L35.93 213.47 L36.28 212.05 L36.62 210.68 L36.96 209.36 L37.31 208.07 L37.65 206.83 L37.99 205.62 L38.33 204.45 L38.68 203.31 L39.02 202.20 L39.36 201.12 L39.71 200.07 L40.05 199.05 L40.39 198.05 L40.74 197.08 L41.08 196.13 L41.42 195.20 L41.77 194.29 L42.11 193.40 L42.45 192.53 L42.80 191.68 L43.14 190.84 L43.48 190.02 L43.83 189.22 L44.17 188.44 L44.51 187.67 L44.86 186.91 L45.20 186.17 L45.54 185.44 L46.06 184.37 L46.57 183.33 L47.09 182.31 L47.60 181.32 L48.12 180.35 L48.63 179.41 L49.15 178.48 L49.66 177.58 L50.18 176.70 L50.69 175.83 L51.21 174.99 L51.72 174.16 L52.24 173.35 L52.75 172.55 L53.27 171.77 L53.78 171.00 L54.29 170.25 L54.81 169.51 L55.32 168.79 L55.84 168.08 L56.35 167.38 L56.87 166.69 L57.38 166.01 L57.90 165.35 L58.41 164.69 L58.93 164.05 L59.44 163.41 L59.96 162.79 L60.47 162.17 L61.16 161.37 L61.85 160.58 L62.53 159.80 L63.22 159.04 L63.91 158.30 L64.59 157.56 L65.28 156.84 L65.96 156.14 L66.65 155.44 L67.34 154.76 L68.02 154.09 L68.71 153.42 L69.40 152.77 L70.08 152.13 L70.77 151.50 L71.46 150.88 L72.14 150.27 L72.83 149.67 L73.52 149.08 L74.20 148.49 L74.89 147.92 L75.57 147.35 L76.26 146.79 L76.95 146.23 L77.63 145.69 L78.32 145.15 L79.01 144.62 L79.69 144.09 L80.38 143.58 L81.07 143.07 L81.75 142.56 L82.44 142.06 L83.13 141.57 L83.81 141.08 L84.50 140.60 L85.19 140.13 L85.87 139.66 L86.56 139.20 L87.24 138.74 L87.93 138.28 L88.62 137.83 L89.30 137.39 L89.99 136.95 L90.68 136.52 L91.36 136.09 L92.05 135.66 L92.74 135.24 L93.42 134.82 L94.11 134.41 L94.97 133.90 L95.83 133.40 L96.68 132.90 L97.54 132.41 L98.40 131.93 L99.26 131.45 L100.12 130.97 L100.97 130.51 L101.83 130.04 L102.69 129.59 L103.55 129.13 L104.41 128.69 L105.26 128.24 L106.12 127.81 L106.98 127.37 L107.84 126.94 L108.70 126.52 L109.55 126.10 L110.41 125.68 L111.27 125.27 L112.13 124.87 L112.99 124.46 L113.84 124.06 L114.70 123.67 L115.56 123.28 L116.42 122.89 L117.28 122.51 L118.13 122.13 L118.99 121.75 L119.85 121.38 L120.71 121.01 L121.57 120.64 L122.43 120.28 L123.28 119.92 L124.14 119.56 L125.00 119.21 L125.86 118.86 L126.72 118.51 L127.57 118.16 L128.43 117.82 L129.29 117.48 L130.15 117.15 L131.01 116.81 L131.86 116.48 L132.72 116.15 L133.58 115.83 L134.44 115.51 L135.30 115.19 L136.15 114.87 L137.01 114.55 L137.87 114.24 L138.73 113.93 L139.59 113.62 L140.44 113.32 L141.30 113.01 L142.16 112.71 L143.02 112.41 L143.88 112.12 L144.73 111.82 L145.59 111.53 L146.45 111.24 L147.31 110.95 L148.17 110.66 L149.03 110.38 L149.88 110.10 L150.74 109.82 L151.60 109.54 L152.46 109.26 L153.32 108.99 L154.17 108.72 L155.03 108.44 L155.89 108.18 L156.75 107.91 L157.61 107.64 L158.46 107.38 L159.32 107.12 L160.18 106.86 L161.04 106.60 L161.90 106.34 L162.75 106.08 L163.61 105.83 L164.47 105.58 L165.33 105.33 L166.19 105.08 L167.04 104.83 L167.90 104.58 L168.76 104.34 L169.62 104.10 L170.48 103.85 L171.33 103.61 L172.19 103.37 L173.05 103.14 L173.91 102.90 L174.77 102.67 L175.63 102.43 L176.48 102.20 L177.34 101.97 L178.20 101.74 L179.06 101.51 L179.92 101.29 L180.77 101.06 L181.63 100.84 L182.49 100.61 L183.35 100.39 L184.21 100.17 L185.06 99.95 L185.92 99.73 L186.78 99.51 L187.64 99.30 L188.50 99.08 L189.35 98.87 L190.21 98.66 L191.07 98.45 L191.93 98.24 L192.79 98.03 L193.64 97.82 L194.50 97.61 L195.36 97.40 L196.22 97.20 L197.08 97.00 L197.93 96.79 L198.79 96.59 L199.65 96.39 L200.51 96.19 L201.37 95.99 L202.23 95.79 L203.08 95.59 L203.94 95.40 L204.80 95.20 L205.66 95.01 L206.52 94.82 L207.37 94.62 L208.23 94.43 L209.09 94.24 L209.95 94.05 L210.81 93.86 L211.66 93.67 L212.52 93.49 L213.38 93.30 L214.24 93.12 L215.10 92.93 L215.95 92.75 L216.81 92.57 L217.67 92.38 L218.53 92.20 L219.39 92.02 L220.24 91.84 L221.10 91.66 L221.96 91.48 L222.82 91.31 L223.68 91.13 L224.53 90.96 L225.39 90.78 L226.25 90.61 L227.11 90.43 L227.97 90.26 L228.83 90.09 L229.68 89.92 L230.54 89.75 L231.40 89.58 L232.26 89.41 L233.12 89.24 L233.97 89.07 L234.83 88.90 L235.69 88.74 L236.55 88.57 L237.41 88.41 L238.26 88.24 L239.12 88.08 L239.98 87.92 L240.84 87.75 L241.70 87.59 L242.55 87.43 L243.41 87.27 L244.27 87.11 L245.13 86.95 L245.99 86.79 L246.84 86.64 L247.70 86.48 L248.56 86.32 L249.42 86.16 L250.28 86.01 L251.13 85.85 L251.99 85.70 L252.85 85.55 L253.71 85.39 L254.57 85.24 L255.43 85.09 L256.28 84.94 L257.14 84.79 L258.00 84.64 L258.86 84.49 L259.72 84.34 L260.57 84.19 L261.43 84.04 L262.29 83.89 L263.15 83.75 L264.01 83.60 L264.86 83.45 L265.72 83.31 L266.58 83.16 L267.44 83.02 L268.30 82.87 L269.15 82.73 L270.01 82.59 L270.87 82.45 L271.73 82.30 L272.59 82.16 L273.44 82.02 L274.30 81.88 L275.16 81.74 L276.02 81.60 L276.88 81.46 L277.73 81.32 L278.59 81.19 L279.45 81.05 L280.31 80.91 L281.17 80.78 L282.03 80.64 L282.88 80.50 L283.74 80.37 L284.60 80.23 L285.46 80.10 L286.32 79.97 L287.17 79.83 L288.03 79.70 L288.89 79.57 L289.75 79.43 L290.61 79.30 L291.46 79.17 L292.32 79.04 L293.18 78.91 L294.04 78.78 L294.90 78.65 L295.75 78.52 L296.61 78.39 L297.47 78.26 L298.33 78.14 L299.19 78.01 L300.04 77.88 L300.90 77.75 L301.76 77.63 L302.62 77.50 L303.48 77.38 L304.33 77.25 L305.19 77.13 L306.05 77.00 L306.91 76.88 L307.77 76.75 L308.63 76.63 L309.48 76.51 L310.34 76.39 L311.20 76.26 L312.06 76.14 L312.92 76.02 L313.77 75.90 L314.63 75.78 L315.49 75.66 L316.35 75.54 L317.21 75.42 L318.06 75.30 L318.92 75.18 L319.78 75.06 L320.64 74.94 L321.50 74.82 L322.35 74.71 L323.21 74.59 L324.07 74.47 L324.93 74.36 L325.79 74.24 L326.64 74.12 L327.50 74.01 L328.36 73.89 L329.22 73.78 L330.08 73.66 L330.93 73.55 L331.79 73.44 L332.65 73.32 L333.51 73.21 L334.37 73.10 L335.23 72.98 L336.08 72.87 L336.94 72.76 L337.80 72.65 L338.66 72.54 L339.52 72.42 L340.37 72.31 L341.23 72.20 L342.09 72.09 L342.95 71.98 L343.81 71.87 L344.66 71.76 L345.52 71.65 L346.38 71.55 L347.24 71.44 L348.10 71.33 L348.95 71.22 L349.81 71.11 L350.67 71.01 L351.53 70.90 L352.39 70.79 L353.24 70.69 L354.10 70.58 L354.96 70.47 L355.82 70.37 L356.68 70.26 L357.53 70.16 L358.39 70.05 L359.25 69.95 L360.11 69.84 L360.97 69.74 L361.83 69.64 L362.68 69.53 L363.54 69.43 L364.40 69.33 L365.26 69.22 L366.12 69.12 L366.97 69.02 L367.83 68.92 L368.69 68.82 L369.55 68.72" stroke="#00aa00" stroke-width="2.2"/>
</g>
<text transform="translate(24.5 220.90) scale(0.95 1)" font-size="11.5" text-anchor="end">1800</text>
<text transform="translate(24.5 180.39) scale(0.95 1)" font-size="11.5" text-anchor="end">2000</text>
<text transform="translate(24.5 139.88) scale(0.95 1)" font-size="11.5" text-anchor="end">2200</text>
<text transform="translate(24.5 99.37) scale(0.95 1)" font-size="11.5" text-anchor="end">2400</text>
<text transform="translate(24.5 58.86) scale(0.95 1)" font-size="11.5" text-anchor="end">2600</text>
<text transform="translate(136.00 244.35) scale(0.95 1)" font-size="11.5" text-anchor="middle">0.5</text>
<text transform="translate(245.10 244.35) scale(0.95 1)" font-size="11.5" text-anchor="middle">1.0</text>
<text transform="translate(354.20 244.35) scale(0.95 1)" font-size="11.5" text-anchor="middle">1.5</text>
<text x="27" y="10.3" font-size="12.3" font-style="italic" text-anchor="middle">S</text>
<text x="385.9" y="233.6" font-size="11.4" font-style="italic">φ</text>
<text transform="translate(392.7 235.6) scale(1.14 0.94)" font-size="8.8" font-style="italic">R</text>
</svg>
</body></html>
